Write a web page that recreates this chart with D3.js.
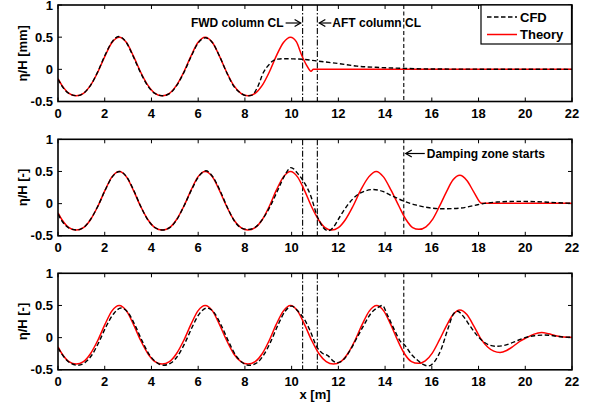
<!DOCTYPE html>
<html><head><meta charset="utf-8">
<script src="https://cdn.jsdelivr.net/npm/d3@7"></script>
<style>
body{margin:0;background:#fff}
text{font-family:"Liberation Sans",Arial,Helvetica,sans-serif;font-weight:bold;fill:#000}
</style>
</head><body>
<svg id="c" width="597" height="410"></svg>
<script>
// ---------- data ----------
const xTicks = [0,2,4,6,8,10,12,14,16,18,20,22];
const yTicks = [-0.5,0,0.5,1];
const yTickLabels = ["-0.5","0","0.5","1"];
const yLabels = ["η/H [mm]","η/H [-]","η/H [-]"];
const xLabel = "x [m]";
const fwdX = 10.47, aftX = 11.1, dampX = 14.8;
const seriesNames = ["CFD","Theory"];

const p1Theory = [[0,-0.145],[0.17,-0.25],[0.47,-0.372],[0.78,-0.41],[1.09,-0.372],[1.39,-0.25],[1.70,-0.045],[2.01,0.205],[2.31,0.416],[2.62,0.50],[2.93,0.416],[3.23,0.205],[3.54,-0.045],[3.85,-0.25],[4.15,-0.372],[4.46,-0.41],[4.77,-0.372],[5.07,-0.25],[5.38,-0.045],[5.69,0.205],[5.99,0.416],[6.30,0.50],[6.61,0.416],[6.91,0.205],[7.22,-0.045],[7.52,-0.25],[7.83,-0.372],[8.13,-0.41],[8.44,-0.372],[8.74,-0.25],[9.04,-0.045],[9.34,0.205],[9.65,0.416],[9.95,0.50],[10.2,0.43],[10.43,0.22],[10.63,0.07],[10.83,-0.03],[10.93,0.0],[22,0.0]];
const p1CFD = [[0,-0.15],[0.17,-0.26],[0.47,-0.375],[0.8,-0.41],[1.1,-0.37],[1.4,-0.245],[1.7,-0.04],[2.0,0.21],[2.3,0.42],[2.6,0.51],[2.92,0.42],[3.22,0.2],[3.53,-0.05],[3.85,-0.26],[4.15,-0.375],[4.48,-0.41],[4.8,-0.37],[5.1,-0.24],[5.4,-0.04],[5.7,0.2],[6.0,0.41],[6.3,0.49],[6.62,0.41],[6.92,0.2],[7.22,-0.05],[7.52,-0.26],[7.82,-0.37],[8.1,-0.41],[8.3,-0.40],[8.55,-0.27],[8.79,-0.05],[9.0,0.06],[9.19,0.13],[9.4,0.158],[9.7,0.165],[10.1,0.162],[10.5,0.155],[11.07,0.13],[12.0,0.09],[12.8,0.05],[13.8,0.028],[14.8,0.015],[16.0,0.005],[22,0.0]];

const p2Theory = [[0,-0.145],[0.17,-0.25],[0.47,-0.372],[0.78,-0.41],[1.09,-0.372],[1.39,-0.25],[1.70,-0.045],[2.01,0.205],[2.31,0.416],[2.62,0.50],[2.93,0.416],[3.23,0.205],[3.54,-0.045],[3.85,-0.25],[4.15,-0.372],[4.46,-0.41],[4.77,-0.372],[5.07,-0.25],[5.38,-0.045],[5.69,0.205],[5.99,0.416],[6.30,0.50],[6.61,0.416],[6.91,0.205],[7.22,-0.045],[7.52,-0.25],[7.83,-0.372],[8.13,-0.41],[8.44,-0.372],[8.74,-0.25],[9.04,-0.045],[9.34,0.205],[9.65,0.416],[9.95,0.50],[10.25,0.416],[10.55,0.205],[10.85,-0.045],[11.15,-0.25],[11.43,-0.372],[11.71,-0.41],[12.0,-0.372],[12.3,-0.25],[12.62,-0.045],[12.95,0.205],[13.3,0.416],[13.62,0.50],[13.93,0.416],[14.26,0.205],[14.6,-0.045],[14.9,-0.25],[15.18,-0.372],[15.45,-0.40],[15.75,-0.36],[16.04,-0.24],[16.33,-0.04],[16.62,0.18],[16.91,0.37],[17.2,0.44],[17.5,0.36],[17.8,0.18],[18.14,0.005],[22,0.005]];
const p2CFD = [[0,-0.16],[0.17,-0.27],[0.47,-0.38],[0.8,-0.41],[1.1,-0.37],[1.4,-0.24],[1.72,-0.03],[2.02,0.21],[2.33,0.42],[2.65,0.5],[2.95,0.41],[3.25,0.2],[3.55,-0.05],[3.86,-0.26],[4.16,-0.375],[4.48,-0.41],[4.8,-0.37],[5.1,-0.24],[5.4,-0.03],[5.71,0.21],[6.02,0.42],[6.33,0.51],[6.64,0.41],[6.94,0.2],[7.25,-0.06],[7.55,-0.27],[7.85,-0.38],[8.15,-0.40],[8.47,-0.36],[8.78,-0.23],[9.1,-0.03],[9.42,0.22],[9.72,0.45],[9.97,0.56],[10.3,0.45],[10.57,0.31],[10.8,0.14],[11.1,-0.2],[11.35,-0.37],[11.57,-0.42],[11.8,-0.36],[12.07,-0.2],[12.4,-0.02],[12.79,0.13],[13.1,0.19],[13.5,0.22],[13.9,0.19],[14.3,0.12],[14.8,0.04],[15.3,-0.02],[15.9,-0.065],[16.5,-0.08],[17.2,-0.07],[17.8,-0.03],[18.2,0.0],[18.8,0.025],[19.6,0.035],[20.5,0.03],[21.3,0.015],[22,0.005]];

const p3Theory = [[0,-0.145],[0.17,-0.25],[0.47,-0.372],[0.78,-0.41],[1.09,-0.372],[1.39,-0.25],[1.70,-0.045],[2.01,0.205],[2.31,0.416],[2.62,0.50],[2.93,0.416],[3.23,0.205],[3.54,-0.045],[3.85,-0.25],[4.15,-0.372],[4.46,-0.41],[4.77,-0.372],[5.07,-0.25],[5.38,-0.045],[5.69,0.205],[5.99,0.416],[6.30,0.50],[6.61,0.416],[6.91,0.205],[7.22,-0.045],[7.52,-0.25],[7.83,-0.372],[8.13,-0.41],[8.44,-0.372],[8.74,-0.25],[9.04,-0.045],[9.34,0.205],[9.65,0.416],[9.95,0.50],[10.25,0.416],[10.55,0.205],[10.86,-0.045],[11.17,-0.25],[11.48,-0.372],[11.79,-0.41],[12.1,-0.372],[12.4,-0.25],[12.71,-0.045],[13.02,0.205],[13.33,0.416],[13.64,0.50],[13.94,0.416],[14.24,0.205],[14.54,-0.045],[14.83,-0.25],[15.13,-0.372],[15.42,-0.40],[15.72,-0.36],[16.02,-0.24],[16.32,-0.04],[16.62,0.18],[16.91,0.36],[17.2,0.43],[17.5,0.36],[17.8,0.18],[18.1,-0.02],[18.4,-0.15],[18.65,-0.21],[18.92,-0.23],[19.2,-0.2],[19.5,-0.13],[19.8,-0.05],[20.06,0.0],[20.35,0.05],[20.7,0.08],[21.0,0.06],[21.3,0.03],[21.65,0.01],[22,0.005]];
const p3CFD = [[0,-0.16],[0.3,-0.32],[0.55,-0.40],[0.85,-0.43],[1.15,-0.39],[1.45,-0.27],[1.75,-0.07],[2.07,0.18],[2.4,0.38],[2.7,0.46],[3.0,0.39],[3.3,0.19],[3.6,-0.05],[3.9,-0.26],[4.2,-0.38],[4.52,-0.43],[4.85,-0.39],[5.15,-0.27],[5.45,-0.07],[5.75,0.17],[6.05,0.37],[6.38,0.46],[6.7,0.38],[7.0,0.18],[7.3,-0.06],[7.6,-0.27],[7.9,-0.39],[8.2,-0.43],[8.52,-0.39],[8.82,-0.26],[9.12,-0.05],[9.42,0.2],[9.72,0.41],[10.0,0.49],[10.3,0.4],[10.55,0.28],[10.8,0.1],[11.07,-0.14],[11.3,-0.24],[11.55,-0.28],[11.8,-0.37],[11.95,-0.39],[12.2,-0.35],[12.5,-0.2],[12.8,0.0],[13.1,0.2],[13.4,0.38],[13.7,0.47],[13.88,0.5],[14.1,0.35],[14.4,0.12],[14.64,-0.05],[14.85,-0.12],[15.1,-0.25],[15.42,-0.36],[15.65,-0.42],[15.85,-0.44],[16.1,-0.38],[16.4,-0.18],[16.7,0.15],[16.95,0.38],[17.1,0.41],[17.35,0.33],[17.6,0.2],[17.9,0.05],[18.2,-0.06],[18.5,-0.12],[18.75,-0.135],[19.1,-0.12],[19.5,-0.07],[19.99,0.0],[20.4,0.03],[20.8,0.04],[21.2,0.03],[21.6,0.01],[22,0.005]];

// ---------- layout ----------
const svg = d3.select("#c");
const left = 58, right = 572;
const panelTops = [5, 139.3, 273.3];
const panelH = 96.5;
const x = d3.scaleLinear().domain([0,22]).range([left,right]);

const panels = [
  {cfd:p1CFD, th:p1Theory, label:yLabels[0]},
  {cfd:p2CFD, th:p2Theory, label:yLabels[1]},
  {cfd:p3CFD, th:p3Theory, label:yLabels[2]}
];

panels.forEach((p,i)=>{
  const top = panelTops[i], bot = top+panelH;
  const y = d3.scaleLinear().domain([-0.5,1]).range([bot,top]);
  const g = svg.append("g");
  const cid = "clip"+i;
  svg.append("clipPath").attr("id",cid).append("rect")
    .attr("x",left).attr("y",top).attr("width",right-left).attr("height",panelH);

  // ticks (inside, all four sides)
  const tl = 4;
  xTicks.forEach(t=>{
    g.append("line").attr("x1",x(t)).attr("x2",x(t)).attr("y1",bot).attr("y2",bot-tl).attr("stroke","#000").attr("stroke-width",1);
    g.append("line").attr("x1",x(t)).attr("x2",x(t)).attr("y1",top).attr("y2",top+tl).attr("stroke","#000").attr("stroke-width",1);
    g.append("text").attr("x",x(t)).attr("y",bot+16).attr("text-anchor","middle").attr("font-size",13).text(t);
  });
  yTicks.forEach((t,k)=>{
    g.append("line").attr("x1",left).attr("x2",left+tl).attr("y1",y(t)).attr("y2",y(t)).attr("stroke","#000").attr("stroke-width",1);
    g.append("line").attr("x1",right).attr("x2",right-tl).attr("y1",y(t)).attr("y2",y(t)).attr("stroke","#000").attr("stroke-width",1);
    g.append("text").attr("x",left-5).attr("y",y(t)).attr("dy","0.36em").attr("text-anchor","end").attr("font-size",13).text(yTickLabels[k]);
  });

  // vertical reference lines
  const vl = [[fwdX,"6,2,1.5,2"],[aftX,"6,2,1.5,2"],[dampX,"4,2.5"]];
  vl.forEach(([v,d])=>{
    g.append("line").attr("x1",x(v)).attr("x2",x(v)).attr("y1",top).attr("y2",bot)
      .attr("stroke","#000").attr("stroke-width",1.1).attr("stroke-dasharray",d);
  });

  const line = d3.line().x(d=>x(d[0])).y(d=>y(d[1])).curve(d3.curveMonotoneX);
  const lg = g.append("g").attr("clip-path",`url(#${cid})`);
  lg.append("path").attr("d",line(p.th)).attr("fill","none").attr("stroke","#ff0000").attr("stroke-width",1.5);
  lg.append("path").attr("d",line(p.cfd)).attr("fill","none").attr("stroke","#000").attr("stroke-width",1.4).attr("stroke-dasharray","4.5,2.5");

  // axes box
  g.append("rect").attr("x",left).attr("y",top).attr("width",right-left).attr("height",panelH)
    .attr("fill","none").attr("stroke","#000").attr("stroke-width",1.6);

  // y label
  g.append("text").attr("transform",`translate(27,${(top+bot)/2}) rotate(-90)`)
    .attr("text-anchor","middle").attr("font-size",13).text(p.label);
});

// x label
svg.append("text").attr("x",(left+right)/2).attr("y",399).attr("text-anchor","middle").attr("font-size",13).text(xLabel);

// annotations
function arrow(x1,x2,yy){
  svg.append("line").attr("x1",x1).attr("x2",x2).attr("y1",yy).attr("y2",yy).attr("stroke","#000").attr("stroke-width",1.2);
  const dir = x2>x1?-1:1;
  svg.append("path").attr("d",`M${x2+dir*6},${yy-3.5}L${x2},${yy}L${x2+dir*6},${yy+3.5}`)
    .attr("fill","none").attr("stroke","#000").attr("stroke-width",1.3);
}
const ay1 = 23;
svg.append("text").attr("x",x(fwdX)-19).attr("y",ay1).attr("dy","0.36em").attr("text-anchor","end").attr("font-size",12).text("FWD column CL");
arrow(x(fwdX)-17, x(fwdX)-2, ay1);
arrow(x(aftX)+14, x(aftX)+2, ay1);
svg.append("text").attr("x",x(aftX)+15).attr("y",ay1).attr("dy","0.36em").attr("text-anchor","start").attr("font-size",12).text("AFT column CL");
const ay2 = 153.5;
arrow(x(dampX)+21, x(dampX)+2, ay2);
svg.append("text").attr("x",x(dampX)+23).attr("y",ay2).attr("dy","0.36em").attr("text-anchor","start").attr("font-size",12).text("Damping zone starts");

// legend
const lgd = svg.append("g");
lgd.append("rect").attr("x",481).attr("y",5).attr("width",90.5).attr("height",39)
  .attr("fill","#fff").attr("stroke","#000").attr("stroke-width",1.2);
lgd.append("line").attr("x1",487).attr("x2",517).attr("y1",17).attr("y2",17).attr("stroke","#000").attr("stroke-width",1.4).attr("stroke-dasharray","4.5,2.5");
lgd.append("text").attr("x",520).attr("y",17).attr("dy","0.36em").attr("font-size",13).text(seriesNames[0]);
lgd.append("line").attr("x1",487).attr("x2",517).attr("y1",34.5).attr("y2",34.5).attr("stroke","#ff0000").attr("stroke-width",1.5);
lgd.append("text").attr("x",520).attr("y",34.5).attr("dy","0.36em").attr("font-size",13).text(seriesNames[1]);
</script>
</body></html>
